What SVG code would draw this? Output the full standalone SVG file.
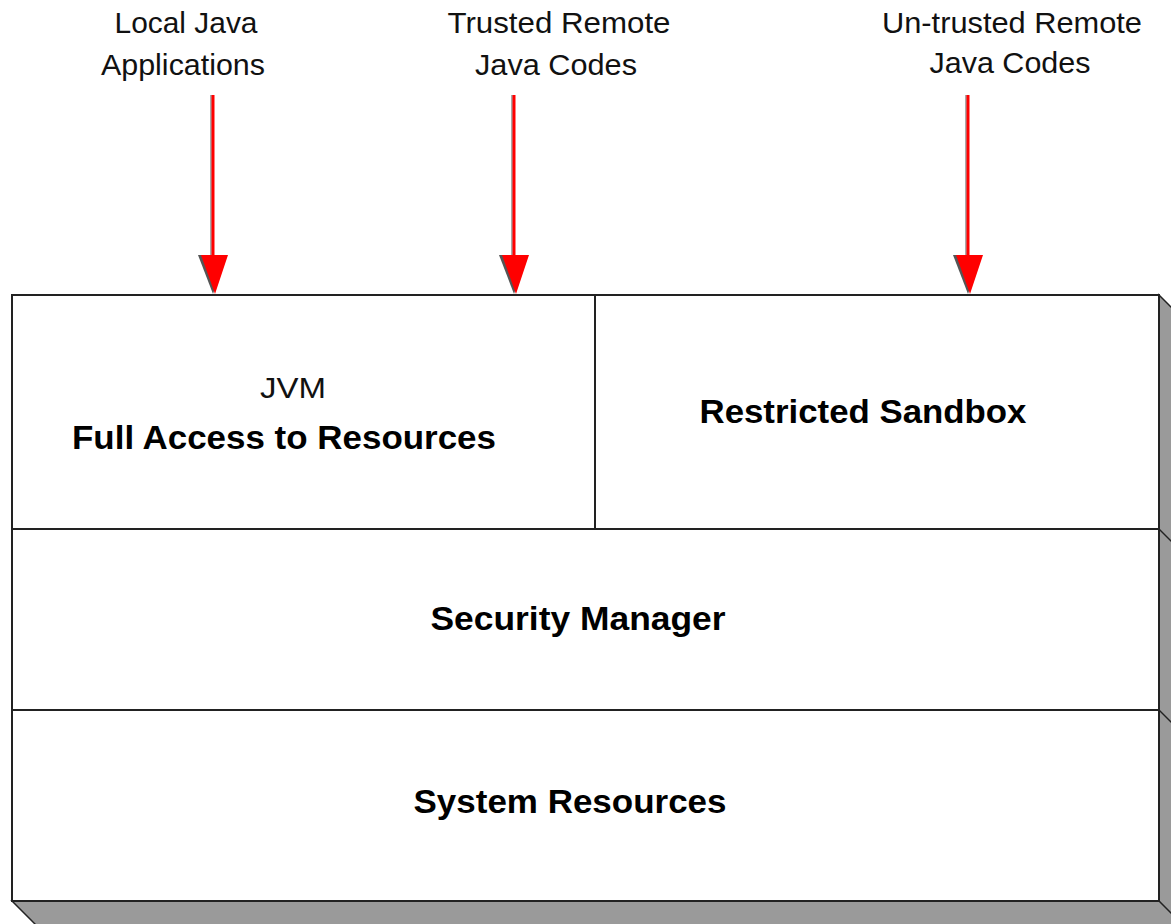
<svg xmlns="http://www.w3.org/2000/svg" width="1171" height="924" viewBox="0 0 1171 924">
<style>
.lbl{font-family:"Liberation Sans",Arial,sans-serif;font-size:29px;fill:#111;text-anchor:middle}
.bold{font-family:"Liberation Sans",Arial,sans-serif;font-size:33px;font-weight:bold;fill:#000;text-anchor:middle}
.box{fill:#fff;stroke:#222;stroke-width:2}
.side{fill:#9a9a9a;stroke:#222;stroke-width:1.5}
.arrow{stroke:#f00;stroke-width:3;fill:none}
.shadow{stroke:#555;stroke-width:1;fill:none}
.head{fill:#f00}
.headsh{fill:#555}
</style>
<rect width="1171" height="924" fill="#fff"/>
<g id="extrusion">
<polygon class="side" points="1159,295 1182,318 1182,947 1159,901"/>
<polygon class="side" points="12,901 1159,901 1182,924 1182,947 35,947 35,924"/>
<line x1="1159" y1="529" x2="1182" y2="552" stroke="#222" stroke-width="1.5"/>
<line x1="1159" y1="710" x2="1182" y2="733" stroke="#222" stroke-width="1.5"/>
</g>
<g id="jvm">
<rect class="box" x="12" y="295" width="583" height="234"/>
<text class="lbl" x="293" y="398" textLength="66" lengthAdjust="spacingAndGlyphs">JVM</text>
<text class="bold" x="284" y="449" style="font-size:34px" textLength="424" lengthAdjust="spacingAndGlyphs">Full Access to Resources</text>
</g>
<g id="sandbox">
<rect class="box" x="595" y="295" width="564" height="234"/>
<text class="bold" x="863" y="423" textLength="327" lengthAdjust="spacingAndGlyphs">Restricted Sandbox</text>
</g>
<g id="security-manager">
<rect class="box" x="12" y="529" width="1147" height="181"/>
<text class="bold" x="578" y="630" textLength="295" lengthAdjust="spacingAndGlyphs">Security Manager</text>
</g>
<g id="system-resources">
<rect class="box" x="12" y="710" width="1147" height="191"/>
<text class="bold" x="570" y="813" textLength="313" lengthAdjust="spacingAndGlyphs">System Resources</text>
</g>
<g id="local-java">
<text class="lbl" x="186" y="33" textLength="143" lengthAdjust="spacingAndGlyphs">Local Java</text>
<text class="lbl" x="183" y="75" textLength="164" lengthAdjust="spacingAndGlyphs">Applications</text>
</g>
<g id="trusted">
<text class="lbl" x="559" y="33" textLength="223" lengthAdjust="spacingAndGlyphs">Trusted Remote</text>
<text class="lbl" x="556" y="75" textLength="162" lengthAdjust="spacingAndGlyphs">Java Codes</text>
</g>
<g id="untrusted">
<text class="lbl" x="1012" y="33" textLength="260" lengthAdjust="spacingAndGlyphs">Un-trusted Remote</text>
<text class="lbl" x="1010" y="73" textLength="161" lengthAdjust="spacingAndGlyphs">Java Codes</text>
</g>
<g id="connectors">
<line class="shadow" x1="211" y1="95" x2="211" y2="258"/>
<line class="arrow" x1="213" y1="95" x2="213" y2="258"/>
<polygon class="headsh" points="198,255 226,255 213,294"/>
<polygon class="head" points="201,255 228,255 215,294"/>
<line class="shadow" x1="512" y1="95" x2="512" y2="258"/>
<line class="arrow" x1="514" y1="95" x2="514" y2="258"/>
<polygon class="headsh" points="499,255 527,255 514,294"/>
<polygon class="head" points="502,255 529,255 516,294"/>
<line class="shadow" x1="966" y1="95" x2="966" y2="258"/>
<line class="arrow" x1="968" y1="95" x2="968" y2="258"/>
<polygon class="headsh" points="953,255 981,255 968,294"/>
<polygon class="head" points="956,255 983,255 970,294"/>
</g>
</svg>
